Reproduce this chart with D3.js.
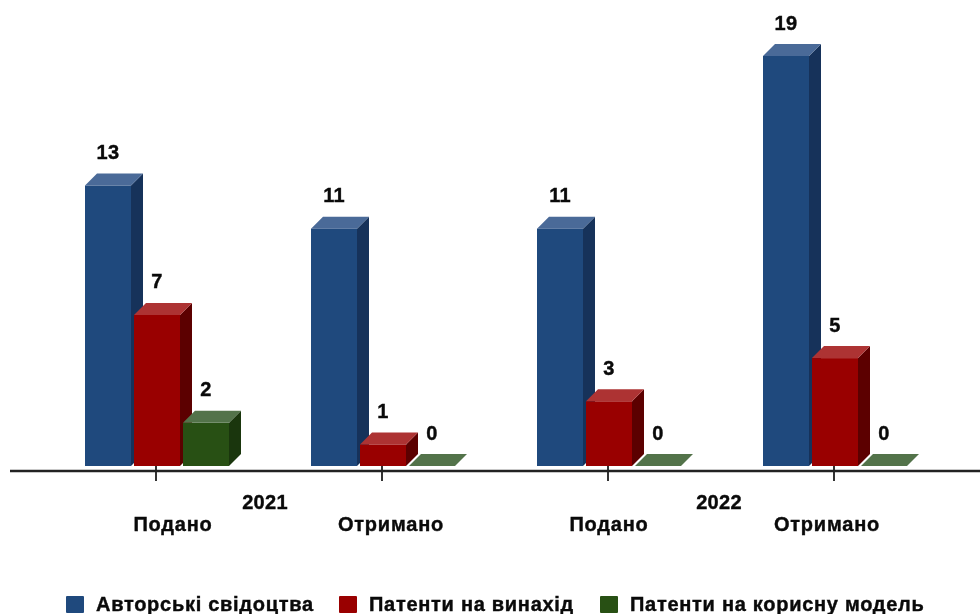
<!DOCTYPE html>
<html><head><meta charset="utf-8">
<script src="https://cdn.jsdelivr.net/npm/d3@7"></script>
<style>html,body{margin:0;padding:0;background:#fff}svg{display:block;filter:blur(0.45px)}
text{font-family:"Liberation Sans",Arial,sans-serif;font-weight:bold;fill:#0a0a0a;stroke:#0a0a0a;stroke-width:0.4px}</style>
</head><body><svg id="c" width="980" height="614"></svg>
<script>
const categories = ["2021 Подано","2021 Отримано","2022 Подано","2022 Отримано"];
const seriesNames = ["Авторські свідоцтва","Патенти на винахід","Патенти на корисну модель"];
const copyright = [13,11,11,19];
const invention = [7,1,3,5];
const utility = [2,0,0,0];
const seriesValues = [copyright,invention,utility];
const fronts = ["#1F497D","#990000","#285014"];
const sides = ["#16325A","#5C0000","#1A360D"];
const tops = ["#4A6A98","#AD3333","#53734A"];
const catLabels = ["Подано","Отримано","Подано","Отримано"];
const yearLabels = ["2021","2022"];

const W=980,H=614,base=466,axisY=471,dx=12,dy=12,barW=46;
const svg=d3.select("#c");
const y=d3.scaleLinear().domain([0,19]).range([base,56]);
const x0=d3.scaleBand().domain(categories).range([43,947]).paddingInner(0).paddingOuter(0);
const x1=d3.scaleBand().domain(seriesNames).range([42,189]).padding(0);
const chart=svg.append("g");
const rows=[];
categories.forEach((c,i)=>seriesNames.forEach((s,j)=>rows.push({c,s,j,v:seriesValues[j][i]})));
const g=chart.selectAll("g").data(rows).join("g");
const L=d=>x0(d.c)+x1(d.s), R=d=>L(d)+barW, T=d=>y(d.v);
const pts=a=>a.map(p=>p.join(",")).join(" ");
g.filter(d=>d.v>0).append("rect").attr("x",L).attr("y",T).attr("width",barW).attr("height",d=>base-T(d)).attr("fill",d=>fronts[d.j]);
g.filter(d=>d.v>0).append("polygon").attr("points",d=>pts([[R(d),T(d)],[R(d)+dx,T(d)-dy],[R(d)+dx,base-dy],[R(d),base]])).attr("fill",d=>sides[d.j]);
g.append("polygon").attr("points",d=>pts([[L(d),T(d)],[L(d)+dx,T(d)-dy],[R(d)+dx,T(d)-dy],[R(d),T(d)]])).attr("fill",d=>tops[d.j]);
g.append("text").attr("x",d=>L(d)+barW/2).attr("y",d=>T(d)-dy-14.5).attr("text-anchor","middle").attr("font-size",20).attr("letter-spacing",0.3).text(d=>d.v);

const axis=d3.axisBottom(x0).tickSize(10).tickFormat("");
const ax=svg.append("g").attr("transform",`translate(0,${axisY})`).call(axis);
ax.select(".domain").remove();
ax.selectAll("line").attr("stroke","#333").attr("stroke-width",2).attr("transform","translate(0,-5)").attr("y2",15);
svg.append("line").attr("x1",10).attr("x2",980).attr("y1",axisY).attr("y2",axisY).attr("stroke","#222").attr("stroke-width",2.4);

[173,391,609,827].forEach((xp,i)=>svg.append("text").attr("x",xp).attr("y",531).attr("text-anchor","middle").attr("font-size",20).attr("letter-spacing",0.8).text(catLabels[i]));
[265,719].forEach((xp,i)=>svg.append("text").attr("x",xp).attr("y",508.5).attr("text-anchor","middle").attr("font-size",20).attr("letter-spacing",0.3).text(yearLabels[i]));

const lx=[66,339,600], tx=[96,369,630];
seriesNames.forEach((s,i)=>{
  svg.append("rect").attr("x",lx[i]).attr("y",596).attr("width",18).attr("height",17).attr("rx",1).attr("fill",fronts[i]);
  svg.append("text").attr("x",tx[i]).attr("y",611).attr("font-size",20).attr("letter-spacing",0.72).text(s);
});
</script></body></html>
